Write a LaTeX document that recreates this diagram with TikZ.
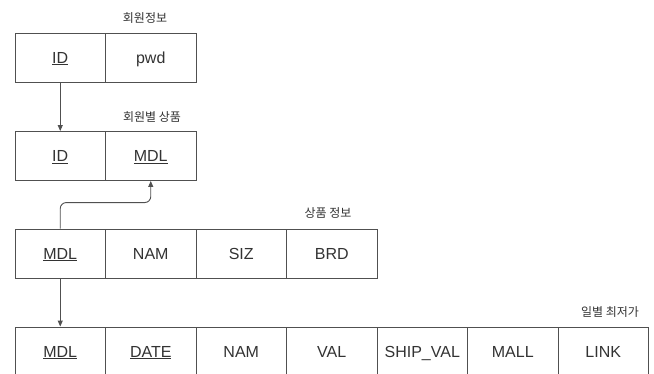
\documentclass[tikz,border=0pt]{standalone}
\usepackage{fontspec}
\setmainfont{Liberation Sans}
\newfontfamily\kr{Noto Sans CJK KR}
\usetikzlibrary{arrows.meta}
\definecolor{linec}{HTML}{505050}
\definecolor{txtc}{HTML}{333333}
\tikzset{
 cell/.style={draw=linec, line width=0.9pt, minimum width=90.5pt, minimum height=49pt, inner sep=0pt, text height=11.5pt, text depth=0pt, text=txtc, font=\fontsize{16}{18}\selectfont},
 ttl/.style={text=txtc, font=\kr\fontsize{12}{14}\selectfont, inner sep=0pt},
 link/.style={draw=linec, line width=0.9pt, -{Triangle[length=6pt,width=5pt]}}
}
\begin{document}
\begin{tikzpicture}[x=1pt,y=-1pt]
\clip (0,0) rectangle (654,373);
\fill[white] (0,0) rectangle (654,373);
% table 1
\node[ttl] (t1) at (145,18) {회원정보};
\node[cell] (u1) at (60.25,57.5) {\underline{ID}};
\node[cell] (u2) at (150.75,57.5) {pwd};
% table 2
\node[ttl] (t2) at (152,117) {회원별 상품};
\node[cell] (m1) at (60.25,156) {\underline{ID}};
\node[cell] (m2) at (150.75,156) {\underline{MDL}};
% table 3
\node[ttl] (t3) at (328,213) {상품 정보};
\node[cell] (p1) at (60.25,253.5) {\underline{MDL}};
\node[cell] (p2) at (150.75,253.5) {NAM};
\node[cell] (p3) at (241.25,253.5) {SIZ};
\node[cell] (p4) at (331.75,253.5) {BRD};
% table 4
\node[ttl] (t4) at (610,312) {일별 최저가};
\node[cell] (d1) at (60.25,351.5) {\underline{MDL}};
\node[cell] (d2) at (150.75,351.5) {\underline{DATE}};
\node[cell] (d3) at (241.25,351.5) {NAM};
\node[cell] (d4) at (331.75,351.5) {VAL};
\node[cell] (d5) at (422.25,351.5) {SHIP\_VAL};
\node[cell] (d6) at (512.75,351.5) {MALL};
\node[cell] (d7) at (603.25,351.5) {LINK};
% connectors
\draw[link] (u1.south) -- (m1.north);
\draw[link, rounded corners=6pt] (p1.north) -- ++(0,-26) -| (m2.south);
\draw[link] (p1.south) -- (d1.north);
\end{tikzpicture}
\end{document}
